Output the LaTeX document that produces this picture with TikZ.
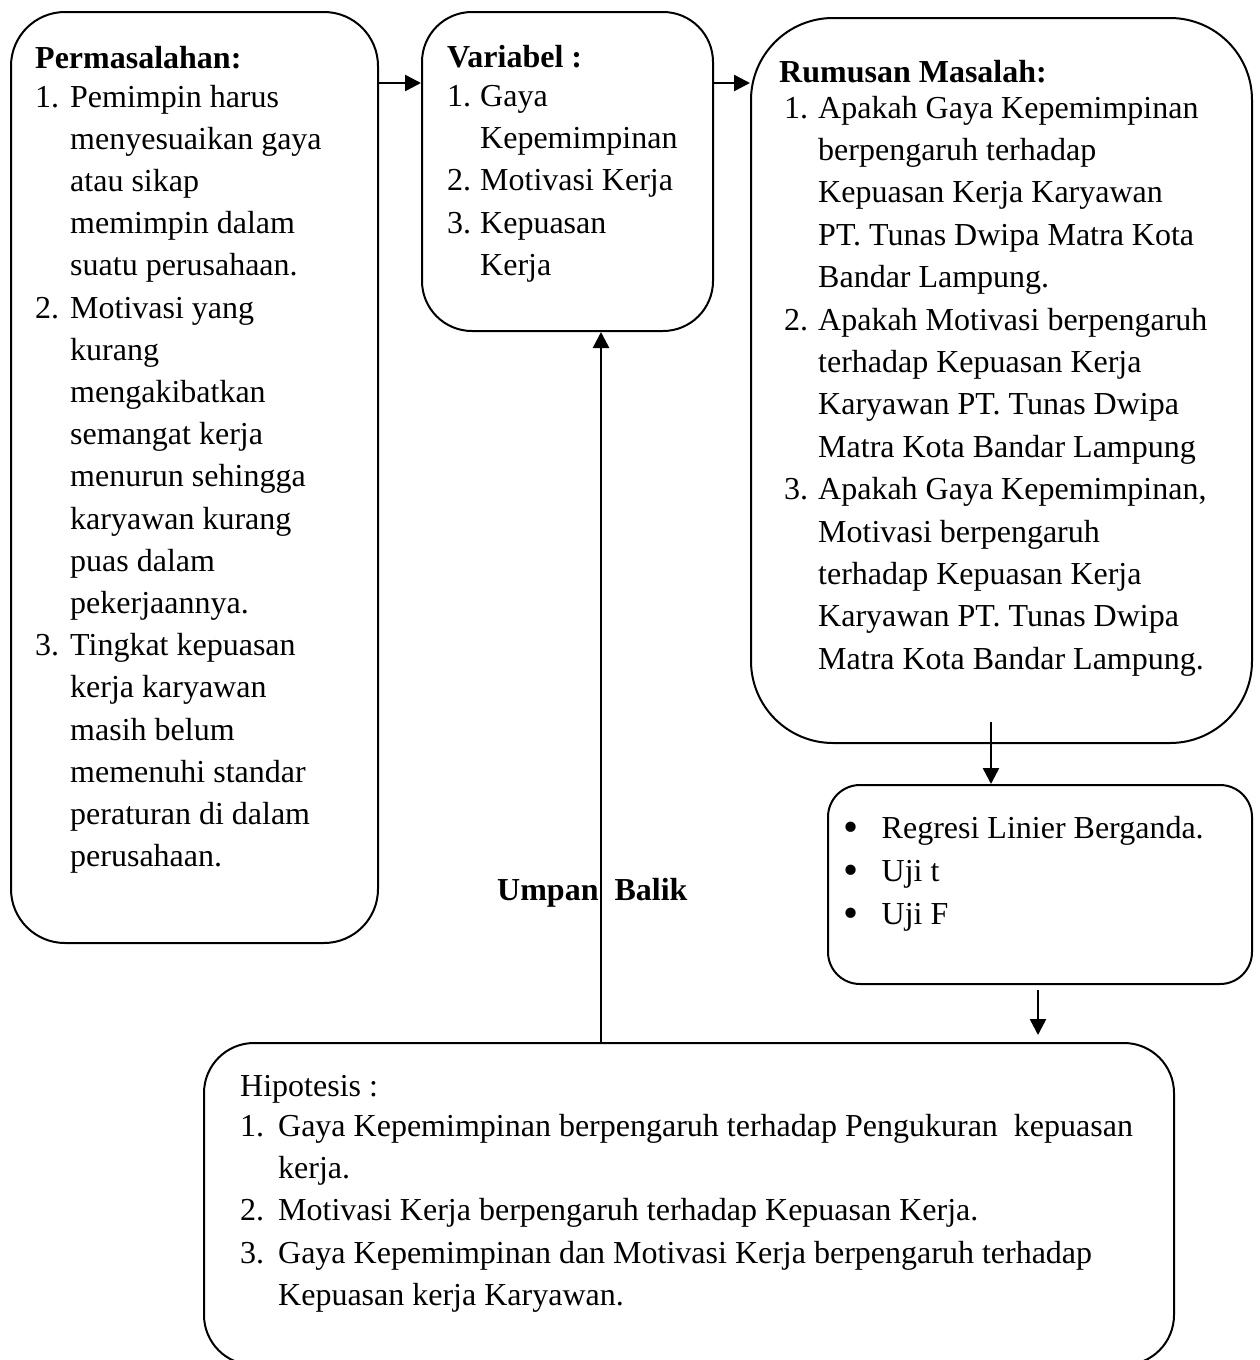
\documentclass[tikz,border=0pt]{standalone}
\usepackage{fontspec}
\setmainfont{Liberation Serif}
\usetikzlibrary{arrows.meta}
\newlength{\numw}
\newcommand{\LI}[2]{\hbox{\makebox[\numw][l]{#1}#2}}
\newcommand{\bigbul}{\raisebox{-3pt}{\fontsize{43}{43}\selectfont\textbullet}}
\begin{document}
\begin{tikzpicture}[x={(1pt,0pt)}, y={(0pt,-1pt)},
  box/.style={draw, line width=2pt, inner sep=0pt, rounded corners=#1},
  arr/.style={line width=2.5pt, -{Triangle[length=16pt,width=16pt]}},
  txt/.style={inner sep=0pt, anchor=base west, font=\fontsize{32}{42.4}\selectfont},
]
\useasboundingbox (0,0) rectangle (1259,1360);

% boxes
\node[box=54pt, minimum width=367pt, minimum height=931pt] (A) at (194.5,477.5) {};
\node[box=50pt, minimum width=291pt, minimum height=319pt] (B) at (567.5,171.5) {};
\node[box=82pt, minimum width=501pt, minimum height=725pt] (C) at (1001.5,380.5) {};
\node[box=32pt, minimum width=424pt, minimum height=199pt] (D) at (1040,884.5) {};
\node[box=50pt, minimum width=970pt, minimum height=322pt] (E) at (689,1204) {};

% box A text
\node[txt, font=\fontsize{32}{42.4}\selectfont\bfseries] (Ah) at (35,68) {Permasalahan:};
\node[txt, font=\fontsize{32}{42.2}\selectfont] (At) at (35,107) {\setlength{\numw}{35pt}\vtop{%
\LI{1.}{Pemimpin harus}
\LI{}{menyesuaikan gaya}
\LI{}{atau sikap}
\LI{}{memimpin dalam}
\LI{}{suatu perusahaan.}
\LI{2.}{Motivasi yang}
\LI{}{kurang}
\LI{}{mengakibatkan}
\LI{}{semangat kerja}
\LI{}{menurun sehingga}
\LI{}{karyawan kurang}
\LI{}{puas dalam}
\LI{}{pekerjaannya.}
\LI{3.}{Tingkat kepuasan}
\LI{}{kerja karyawan}
\LI{}{masih belum}
\LI{}{memenuhi standar}
\LI{}{peraturan di dalam}
\LI{}{perusahaan.}}};

% box B text
\node[txt, font=\fontsize{32}{42.4}\selectfont\bfseries] (Bh) at (447,67) {Variabel :};
\node[txt] (Bt) at (447,106) {\setlength{\numw}{33pt}\vtop{%
\LI{1.}{Gaya}
\LI{}{Kepemimpinan}
\LI{2.}{Motivasi Kerja}
\LI{3.}{Kepuasan}
\LI{}{Kerja}}};

% box C text
\node[txt, font=\fontsize{32}{42.4}\selectfont\bfseries] (Ch) at (779,82) {Rumusan Masalah:};
\node[txt] (Ct) at (784,118) {\setlength{\numw}{34pt}\vtop{%
\LI{1.}{Apakah Gaya Kepemimpinan}
\LI{}{berpengaruh terhadap}
\LI{}{Kepuasan Kerja Karyawan}
\LI{}{PT. Tunas Dwipa Matra Kota}
\LI{}{Bandar Lampung.}
\LI{2.}{Apakah Motivasi berpengaruh}
\LI{}{terhadap Kepuasan Kerja}
\LI{}{Karyawan PT. Tunas Dwipa}
\LI{}{Matra Kota Bandar Lampung}
\LI{3.}{Apakah Gaya Kepemimpinan,}
\LI{}{Motivasi berpengaruh}
\LI{}{terhadap Kepuasan Kerja}
\LI{}{Karyawan PT. Tunas Dwipa}
\LI{}{Matra Kota Bandar Lampung.}}};

% box D text
\node[txt, font=\fontsize{32}{43.2}\selectfont] (Dt) at (843,838) {\setlength{\numw}{38.5pt}\vtop{%
\LI{\bigbul}{Regresi Linier Berganda.}
\LI{\bigbul}{Uji t}
\LI{\bigbul}{Uji F}}};

% box E text
\node[txt] (Eh) at (240,1096) {Hipotesis :};
\node[txt] (Et) at (240,1136) {\setlength{\numw}{38pt}\vtop{%
\LI{1.}{Gaya Kepemimpinan berpengaruh terhadap Pengukuran~ kepuasan}
\LI{}{kerja.}
\LI{2.}{Motivasi Kerja berpengaruh terhadap Kepuasan Kerja.}
\LI{3.}{Gaya Kepemimpinan dan Motivasi Kerja berpengaruh terhadap}
\LI{}{Kepuasan kerja Karyawan.}}};

% feedback label
\node[txt, font=\fontsize{32}{42.4}\selectfont\bfseries] (UB) at (497,900) {Umpan~~Balik};

% connectors
\coordinate (yab) at (0,83);
\draw[arr] (A.east |- yab) -- (B.west |- yab);
\draw[arr] (B.east |- yab) -- (C.west |- yab);
\coordinate (cd) at (991,722);
\draw[arr] (cd) -- (cd |- D.north);
\coordinate (de1) at (1038,990);
\coordinate (de2) at (1038,1035);
\draw[arr] (de1) -- (de2);
\coordinate (eb) at (601,0);
\draw[arr] (E.north -| eb) -- (B.south -| eb);
\end{tikzpicture}
\end{document}
